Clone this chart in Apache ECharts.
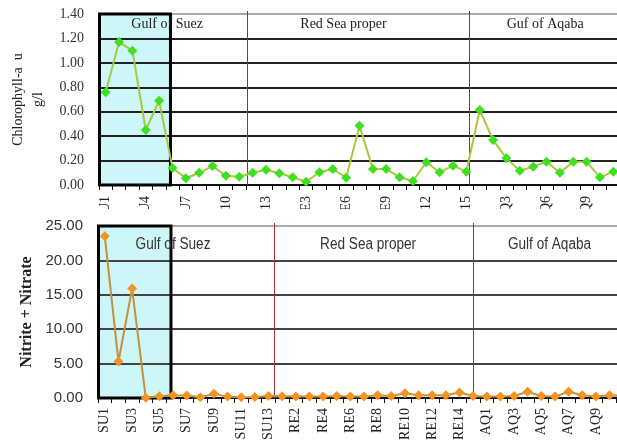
<!DOCTYPE html>
<html>
<head>
<meta charset="utf-8">
<script src="https://cdn.jsdelivr.net/npm/echarts@6/dist/echarts.min.js"></script>
<style>
  html, body { margin: 0; padding: 0; background: #fff; }
  #topWrap { position: absolute; left: 0; top: 0; width: 617px; height: 209px; overflow: hidden; }
  #top { width: 617px; height: 300px; }
  #bottom { position: absolute; left: 0; top: 211px; width: 617px; height: 235px; }
</style>
</head>
<body>
<div id="topWrap"><div id="top"></div></div>
<div id="bottom"></div>
<script>
// ---------- data ----------
const categories = [
  'SU1','SU2','SU3','SU4','SU5','SU6','SU7','SU8','SU9','SU10','SU11','SU12','SU13',
  'RE1','RE2','RE3','RE4','RE5','RE6','RE7','RE8','RE9','RE10','RE11','RE12','RE13','RE14','RE15',
  'AQ1','AQ2','AQ3','AQ4','AQ5','AQ6','AQ7','AQ8','AQ9','AQ10','AQ11'
];
const chlorophyll = [
  0.76, 1.17, 1.10, 0.45, 0.69, 0.14, 0.055, 0.10, 0.155, 0.075, 0.068, 0.10, 0.125,
  0.096, 0.063, 0.027, 0.104, 0.131, 0.06, 0.486, 0.131, 0.131, 0.063, 0.033, 0.186, 0.104, 0.158, 0.109,
  0.614, 0.368, 0.218, 0.117, 0.15, 0.19, 0.10, 0.19, 0.19, 0.063, 0.109
];
const nitrate = [
  23.5, 5.3, 15.9, 0.05, 0.25, 0.4, 0.35, 0.1, 0.6, 0.2, 0.1, 0.15, 0.3,
  0.25, 0.2, 0.2, 0.2, 0.3, 0.2, 0.2, 0.4, 0.3, 0.7, 0.4, 0.4, 0.4, 0.8, 0.3,
  0.2, 0.2, 0.3, 0.9, 0.3, 0.2, 0.9, 0.4, 0.2, 0.4, 0.3
];
const chlTicks = { min: 0, max: 1.4, interval: 0.2 };
const nitTicks = { min: 0, max: 25, interval: 5 };
const regionNames = { top: ['Gulf of Suez', 'Red Sea proper', 'Guf of Aqaba'], bottom: ['Gulf of Suez', 'Red Sea proper', 'Gulf of Aqaba'] };

// ---------- annotation placement (fractional category index) ----------
const topAnn = { boxEnd: 4.85, lines: [10.56, 27.2], labels: [4.6, 17.8, 32.9] };
const botAnn = { boxEnd: 4.85, lines: [12.4, 27.0], labels: [5.0, 19.3, 32.6] };

const SERIF = "'Liberation Serif', 'Times New Roman', serif";
const SANS = "'Liberation Sans', Arial, sans-serif";

function makeOption(cfg) {
  return {
    animation: false,
    grid: Object.assign({ containLabel: false, outerBoundsMode: 'none' }, cfg.grid),
    xAxis: {
      type: 'category',
      data: categories,
      boundaryGap: true,
      axisLine: { lineStyle: { color: '#111', width: 2 } },
      axisTick: { show: true, interval: 0, length: 5, lineStyle: { color: '#111', width: 1 } },
      axisLabel: {
        interval: cfg.labelInterval, rotate: 90, margin: cfg.labelMargin,
        fontFamily: SERIF, fontSize: 14, color: '#222', hideOverlap: false
      }
    },
    yAxis: {
      type: 'value',
      min: cfg.ticks.min, max: cfg.ticks.max, interval: cfg.ticks.interval,
      axisLine: { show: false },
      axisTick: { show: false },
      axisLabel: {
        margin: cfg.yMargin, fontFamily: cfg.yFont, fontSize: cfg.yFontSize, color: '#333',
        formatter: v => v.toFixed(2)
      },
      splitLine: { lineStyle: { color: cfg.splitColors, width: 2 } },
      name: cfg.yName,
      nameLocation: 'middle',
      nameGap: cfg.yNameGap,
      nameTextStyle: cfg.yNameStyle
    },
    series: [{
      type: 'line',
      data: cfg.data,
      symbol: 'diamond',
      symbolSize: cfg.symbolSize,
      showSymbol: true,
      showAllSymbol: true,
      lineStyle: { color: cfg.lineColor, width: 2 },
      itemStyle: { color: cfg.markerColor, borderWidth: 0 },
      z: 5
    }]
  };
}

function addAnnotations(chart, ann, names, ticks, textStyle, textY, textScaleX) {
  const p0 = chart.convertToPixel({ xAxisIndex: 0 }, categories[0]);
  const p1 = chart.convertToPixel({ xAxisIndex: 0 }, categories[1]);
  const xAt = f => p0 + (p1 - p0) * f;
  const yTop = chart.convertToPixel({ yAxisIndex: 0 }, ticks.max);
  const yBot = chart.convertToPixel({ yAxisIndex: 0 }, ticks.min);
  const xL = xAt(-0.5) + 0.5;
  const xR = xAt(ann.boxEnd);
  const g = [];
  g.push({ type: 'rect', z: -10, shape: { x: xL, y: yTop, width: xR - xL, height: yBot - yTop }, style: { fill: '#cdf6f9' } });
  g.push({ type: 'rect', z: 3, shape: { x: xL, y: yTop, width: xR - xL, height: yBot - yTop }, style: { fill: null, stroke: '#000', lineWidth: 3 } });
  ann.lines.forEach(f => {
    const x = Math.round(xAt(f)) + 0.5;
    g.push({ type: 'line', z: 3, shape: { x1: x, y1: yTop - 3, x2: x, y2: yBot }, style: { stroke: '#a3283c', lineWidth: 1 } });
  });
  names.forEach((n, i) => {
    g.push({ type: 'text', z: 4, x: xAt(ann.labels[i]), y: yTop + textY, scaleX: textScaleX,
      style: Object.assign({ text: n, textAlign: 'center', textVerticalAlign: 'middle' }, textStyle) });
  });
  chart.setOption({ graphic: g });
}

// ---------- top chart ----------
const topChart = echarts.init(document.getElementById('top'), null, { renderer: 'canvas' });
topChart.setOption(makeOption({
  grid: { left: 99, right: -3, top: 14, bottom: 115 },
  labelInterval: 2, labelMargin: 11,
  ticks: chlTicks,
  yMargin: 15, yFont: SERIF, yFontSize: 14,
  splitColors: ['#222', '#222', '#222', '#222', '#222', '#222', '#222', '#aaa'],
  yName: 'Chlorophyll-a  u\ng/l', yNameGap: 50,
  yNameStyle: { fontFamily: SERIF, fontSize: 14, color: '#222', lineHeight: 20, align: 'center' },
  data: chlorophyll, symbolSize: 10,
  lineColor: '#a9c83c', markerColor: '#3fe021'
}));
addAnnotations(topChart, topAnn, regionNames.top, chlTicks,
  { fontFamily: SERIF, fontSize: 14, fill: '#222' }, 10, 1);

// ---------- bottom chart ----------
const botChart = echarts.init(document.getElementById('bottom'), null, { renderer: 'canvas' });
botChart.setOption(makeOption({
  grid: { left: 98, right: -13, top: 15, bottom: 48 },
  labelInterval: 1, labelMargin: 10,
  ticks: nitTicks,
  yMargin: 15, yFont: SANS, yFontSize: 15,
  splitColors: ['#444', '#444', '#444', '#444', '#444', '#aaa'],
  yName: 'Nitrite + Nitrate', yNameGap: 52,
  yNameStyle: { fontFamily: SERIF, fontSize: 16, fontWeight: 'bold', color: '#222' },
  data: nitrate, symbolSize: 10,
  lineColor: '#c4903e', markerColor: '#f39422'
}));
addAnnotations(botChart, botAnn, regionNames.bottom, nitTicks,
  { fontFamily: SANS, fontSize: 16, fill: '#333' }, 19, 0.85);
</script>
</body>
</html>
